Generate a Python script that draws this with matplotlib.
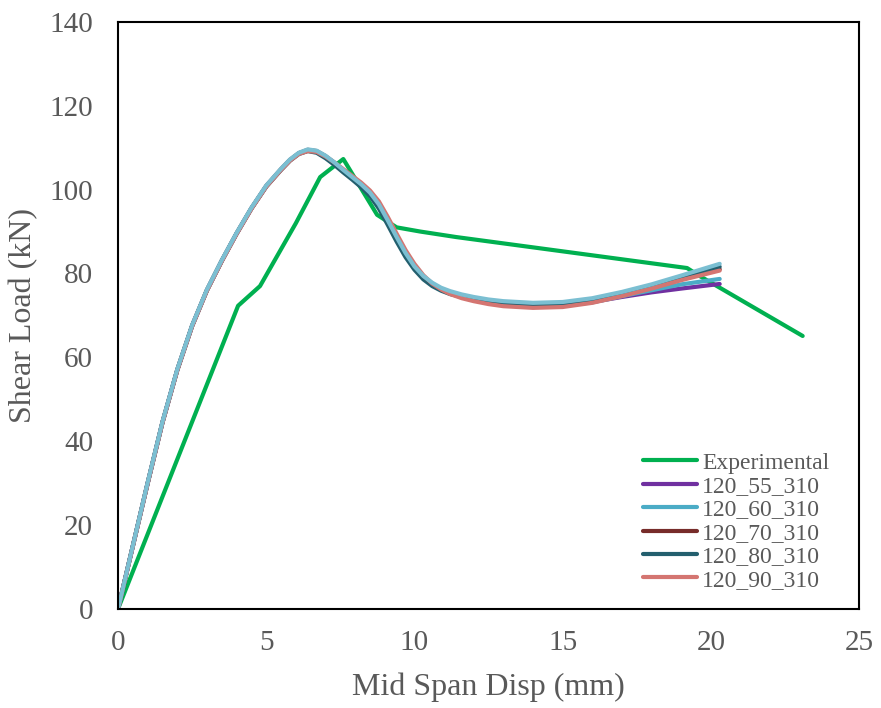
import matplotlib.pyplot as plt

# experimental test
exp_disp = [0, 4.05, 4.79, 6.0, 6.82, 7.6, 8.74, 9.4, 10.2, 11.4, 19.2, 19.6, 23.1]
exp_load = [0, 72.3, 77.0, 92.0, 103.0, 107.3, 94.0, 91.0, 90.0, 88.7, 81.3, 79.5, 65.1]

# FE models, shared displacement steps
fe_disp = [0, 0.5, 1, 1.5, 2, 2.5, 3, 3.5, 4, 4.5, 5, 5.5, 5.8, 6.1, 6.4, 6.7, 7.0, 7.3, 7.6, 7.9,
           8.2, 8.5, 8.8, 9.1, 9.4, 9.7, 10, 10.3, 10.6, 10.9, 11.2, 11.6, 12, 12.5, 13, 14, 15,
           16, 17, 18, 19, 20.3]

load_55 = [0, 15, 30, 44.5, 57, 67.5, 76, 83, 89.5, 95.5, 100.8, 104.8, 107, 108.6, 109.3, 109.0,
           107.8, 106.2, 104.4, 102.7, 101.0, 99.0, 96.2, 92.4, 88.4, 84.6, 81.4, 79.0, 77.4, 76.2,
           75.3, 74.5, 73.9, 73.3, 72.9, 72.5, 72.6, 73.2, 74.4, 75.5, 76.4, 77.5]
load_60 = [0, 15, 30, 44.5, 57, 67.5, 76, 83, 89.5, 95.5, 100.8, 104.8, 107, 108.7, 109.4, 109.1,
           107.9, 106.3, 104.5, 102.8, 101.1, 99.1, 96.3, 92.5, 88.5, 84.7, 81.5, 79.1, 77.4, 76.2,
           75.3, 74.5, 73.9, 73.3, 72.8, 72.4, 72.4, 73.1, 74.6, 76.0, 77.4, 78.7]
load_70 = [0, 15.1, 30.1, 44.6, 57.1, 67.6, 76.1, 83.1, 89.6, 95.6, 100.9, 104.9, 107.1, 108.7, 109.5, 109.2,
           108.0, 106.4, 104.6, 102.9, 101.2, 99.2, 96.4, 92.6, 88.6, 84.8, 81.6, 79.2, 77.5, 76.3,
           75.4, 74.6, 74.0, 73.4, 72.9, 72.5, 72.6, 73.4, 75.0, 76.8, 78.7, 81.0]
load_80 = [0, 15, 30, 44.5, 57, 67.5, 76, 83, 89.5, 95.5, 100.7, 104.7, 106.9, 108.5, 109.2, 108.8,
           107.5, 105.9, 104.1, 102.4, 100.6, 98.5, 95.5, 91.6, 87.6, 83.9, 80.9, 78.6, 77.0, 75.9,
           75.1, 74.4, 73.9, 73.4, 73.0, 72.6, 72.8, 73.7, 75.2, 77.0, 79.0, 81.6]
load_90 = [0, 14.9, 29.9, 44.4, 56.9, 67.4, 75.9, 82.9, 89.4, 95.4, 100.7, 104.7, 106.9, 108.5, 109.2, 109.0,
           107.9, 106.5, 104.9, 103.3, 101.7, 99.8, 97.2, 93.5, 89.5, 85.6, 82.3, 79.6, 77.6, 76.2,
           75.1, 74.1, 73.4, 72.7, 72.2, 71.8, 72.0, 73.0, 74.6, 76.4, 78.4, 80.7]
load_top = [0, 15.1, 30.2, 44.7, 57.2, 67.7, 76.2, 83.2, 89.7, 95.7, 101.0, 105.0, 107.2, 108.8, 109.6, 109.3,
            108.1, 106.5, 104.7, 103.0, 101.3, 99.3, 96.5, 92.7, 88.7, 84.9, 81.7, 79.4, 77.8, 76.6,
            75.8, 75.0, 74.4, 73.8, 73.4, 73.0, 73.2, 74.1, 75.6, 77.4, 79.5, 82.3]

fe_series = [
    ('120_55_310', load_55, '#7030A0'),
    ('120_60_310', load_60, '#4BACC6'),
    ('120_70_310', load_70, '#772C2A'),
    ('120_80_310', load_80, '#235F6E'),
    ('120_90_310', load_90, '#D47571'),
]

grey = '#595959'
plt.rcParams['font.family'] = ['Liberation Serif', 'DejaVu Serif']

fig = plt.figure(figsize=(8.81, 7.08), dpi=100)
ax = fig.add_axes([0.134, 0.14, 0.841, 0.829])

ax.plot(exp_disp, exp_load, color='#00B050', lw=3, label='Experimental', solid_capstyle='round')
for name, load, col in fe_series:
    ax.plot(fe_disp, load, color=col, lw=3, label=name, solid_capstyle='round')
ax.plot(fe_disp, load_top, color='#7BBFD2', lw=3, label='_nolegend_', solid_capstyle='round')

ax.set_xlim(0, 25)
ax.set_ylim(0, 140)
ax.set_xticks(range(0, 26, 5))
ax.set_yticks(range(0, 141, 20))
ax.tick_params(length=0, labelsize=21, labelcolor=grey)
ax.tick_params(axis='x', pad=15)
ax.tick_params(axis='y', pad=18)
for s in ax.spines.values():
    s.set_linewidth(1.5)
    s.set_color('black')

ax.set_xlabel('Mid Span Disp (mm)', fontsize=23, color=grey, labelpad=12)
ax.set_ylabel('Shear Load (kN)', fontsize=23, color=grey, labelpad=8)

leg = fig.legend(loc='upper left', bbox_to_anchor=(0.730, 0.3616), frameon=False,
                 fontsize=17, handlelength=2.3, handletextpad=0.2, labelspacing=0.08,
                 borderpad=0, borderaxespad=0)
for t in leg.get_texts():
    t.set_color(grey)

fig.savefig('out.png', dpi=100)
